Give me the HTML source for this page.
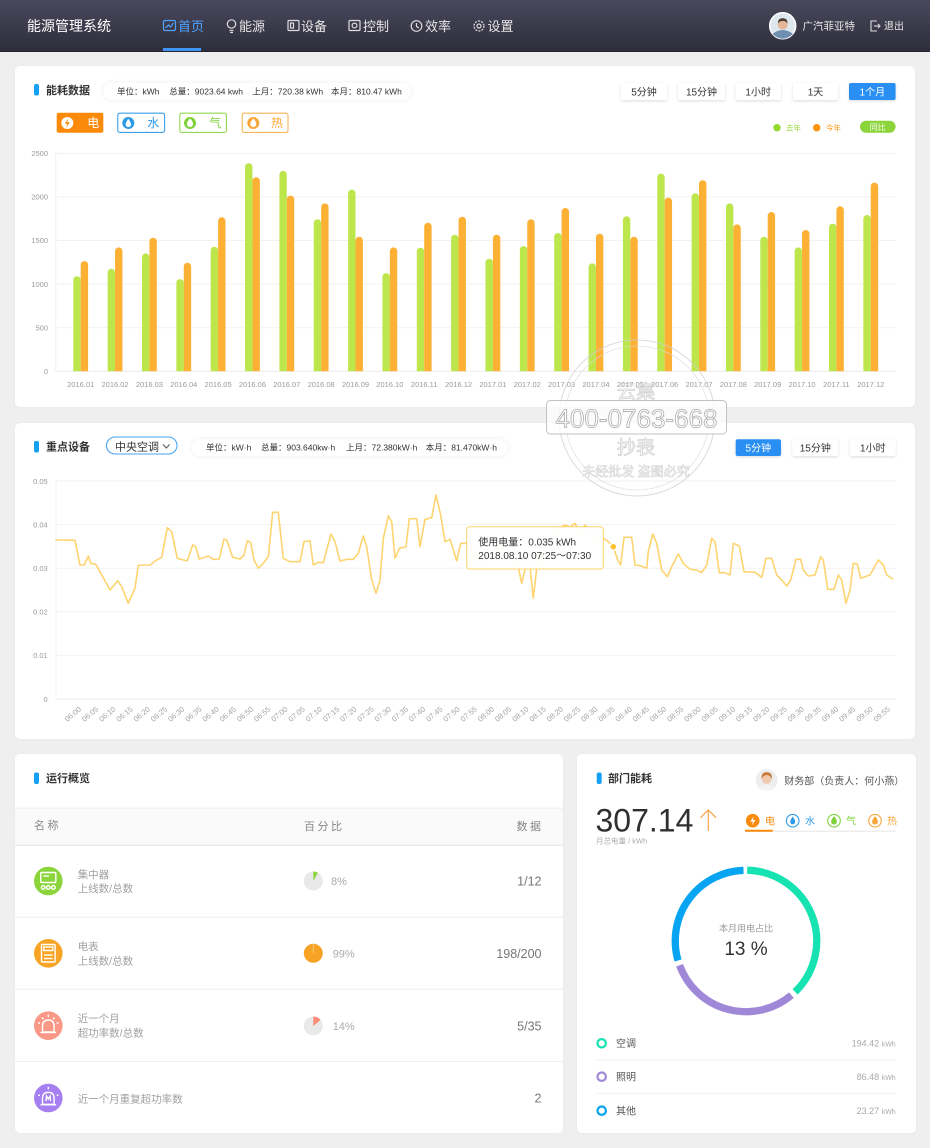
<!DOCTYPE html>
<html><head><meta charset="utf-8">
<style>
html,body{margin:0;padding:0;}
body{width:930px;height:1148px;overflow:hidden;background:#efefef;position:relative;font-family:"Liberation Sans","Noto Sans CJK SC",sans-serif;}
.hdr{position:absolute;left:0;top:0;width:930px;height:51px;background:linear-gradient(to bottom,#4a495d 0%,#2e2d3b 100%);border-bottom:1px solid #25242f;}
.card{position:absolute;background:#fff;border-radius:5px;box-shadow:0 0 2px rgba(0,0,0,0.04);}
svg.main{position:absolute;left:0;top:0;}
</style></head><body>
<div class="hdr"></div>
<div class="card" style="left:15px;top:66px;width:900px;height:341px;"></div>
<div class="card" style="left:15px;top:423px;width:900px;height:316px;"></div>
<div class="card" style="left:15px;top:754px;width:548px;height:379px;"></div>
<div class="card" style="left:577px;top:754px;width:339px;height:379px;"></div>

<svg class="main" width="930" height="1148" viewBox="0 0 930 1148" xmlns="http://www.w3.org/2000/svg" style="font-family:'Liberation Sans','Noto Sans CJK SC',sans-serif;">
<defs>
<clipPath id="bc"><rect x="0" y="0" width="930" height="371.3"/></clipPath>
<filter id="sh" x="-10%" y="-30%" width="120%" height="160%"><feDropShadow dx="0" dy="1" stdDeviation="1.2" flood-color="#000" flood-opacity="0.14"/></filter>
<filter id="sh2" x="-10%" y="-40%" width="120%" height="180%"><feDropShadow dx="0" dy="0" stdDeviation="2" flood-color="#000" flood-opacity="0.08"/></filter>
</defs>

<!-- HEADER -->
<text x="27" y="31" font-size="14" fill="#ffffff">能源管理系统</text>
<g fill="none" stroke="#4fa3ff" stroke-width="1.2">
<rect x="163.5" y="20.5" width="12" height="10" rx="1.5"/>
<polyline points="165.5,28 168.5,25 170.5,27 173.5,23"/>
</g>
<text x="178" y="31" font-size="13" fill="#4fa3ff">首页</text>
<rect x="163" y="48" width="38" height="3" fill="#3f95f5"/>
<g fill="none" stroke="#dcdcdc" stroke-width="1.2">
<circle cx="231.5" cy="24" r="4.2"/><line x1="229.5" y1="30.5" x2="233.5" y2="30.5"/><line x1="230" y1="32.5" x2="233" y2="32.5"/>
<rect x="288" y="20.5" width="11" height="10" rx="1"/><rect x="290.5" y="23" width="3" height="5"/>
<rect x="349" y="20.5" width="11" height="10" rx="1"/><circle cx="354.5" cy="25.5" r="2.4"/>
<circle cx="416.5" cy="26" r="5.3"/><polyline points="416.5,23 416.5,26.5 419,28"/>
<circle cx="479" cy="26" r="5" stroke-dasharray="2 1.2"/><circle cx="479" cy="26" r="2"/>
</g>
<text x="239" y="31" font-size="13" fill="#e6e6e6">能源</text>
<text x="301" y="31" font-size="13" fill="#e6e6e6">设备</text>
<text x="363" y="31" font-size="13" fill="#e6e6e6">控制</text>
<text x="425" y="31" font-size="13" fill="#e6e6e6">效率</text>
<text x="487.5" y="31" font-size="13" fill="#e6e6e6">设置</text>
<circle cx="782.7" cy="25.8" r="13" fill="#dfe7ee" stroke="#fff" stroke-width="1.5"/>
<path d="M772.5,34 Q782.7,26 793,34 Q788,38.5 782.7,38.8 Q777,38.5 772.5,34Z" fill="#6f8fb0"/>
<circle cx="782.7" cy="24.5" r="5" fill="#e3b797"/>
<path d="M777.8,23.5 Q778,18 782.7,18.3 Q787.5,18 787.6,23.5 Q785,20.5 782.7,21 Q780,20.6 777.8,23.5Z" fill="#4b3a30"/>
<text x="802.5" y="29.5" font-size="10.5" fill="#e8e8e8">广汽菲亚特</text>
<g fill="none" stroke="#dcdcdc" stroke-width="1.1"><polyline points="877,21 871,21 871,31 877,31"/><line x1="874" y1="26" x2="880" y2="26"/><polyline points="878,24 880,26 878,28"/></g>
<text x="884" y="29.5" font-size="10" fill="#e8e8e8">退出</text>

<!-- CARD 1 HEADER -->
<rect x="34" y="84" width="5" height="11.5" rx="2" fill="#14a0f5"/>
<text x="46" y="94" font-size="11" font-weight="bold" fill="#333">能耗数据</text>
<rect x="103.3" y="82.7" width="307.7" height="17.5" rx="8.7" fill="#fff" filter="url(#sh2)"/>
<g font-size="8.5" fill="#333">
<text x="117" y="94.5">单位：kWh</text>
<text x="169.3" y="94.5">总量：9023.64 kwh</text>
<text x="252.3" y="94.5">上月：720.38 kWh</text>
<text x="331" y="94.5">本月：810.47 kWh</text>
</g>
<g filter="url(#sh)">
<rect x="621" y="83" width="46" height="17" rx="2" fill="#fff"/>
<rect x="678" y="83" width="47" height="17" rx="2" fill="#fff"/>
<rect x="735.5" y="83" width="45.5" height="17" rx="2" fill="#fff"/>
<rect x="793" y="83" width="45" height="17" rx="2" fill="#fff"/>
<rect x="849" y="83" width="46.6" height="17" rx="2" fill="#2b8ff2"/>
</g>
<g font-size="10" text-anchor="middle" fill="#333">
<text x="644" y="95.3">5分钟</text>
<text x="701.5" y="95.3">15分钟</text>
<text x="758.2" y="95.3">1小时</text>
<text x="815.5" y="95.3">1天</text>
<text x="872.3" y="95.3" fill="#fff">1个月</text>
</g>
<!-- energy buttons -->
<rect x="56.7" y="112.7" width="46.6" height="20" rx="2" fill="#fb8a0b"/>
<circle cx="67.3" cy="123" r="6" fill="#fff"/>
<path d="M68.5,118.5 L64.7,123.8 L67.4,123.8 L66.2,127.7 L70,122.3 L67.3,122.3Z" fill="#fb8a0b"/>
<text x="87.3" y="127.2" font-size="12" fill="#fff">电</text>
<rect x="117.8" y="113.2" width="46.8" height="19.2" rx="2" fill="#fff" stroke="#3aa0e8" stroke-width="1.1"/>
<circle cx="128.3" cy="123" r="6" fill="#2d9ae8"/>
<path d="M128.3,118.8 Q131.3,123 131,124.6 Q130.6,127 128.3,127 Q126,127 125.6,124.6 Q125.4,123 128.3,118.8Z" fill="#fff"/>
<text x="147.3" y="127.2" font-size="12" fill="#2d9ae8">水</text>
<rect x="179.8" y="113.2" width="46.6" height="19.2" rx="2" fill="#fff" stroke="#93d94f" stroke-width="1.1"/>
<circle cx="190" cy="123" r="6" fill="#7fd13b"/>
<path d="M190,118.5 Q193.5,122 193,124.5 Q192.3,127 190,127 Q187.7,127 187,124.5 Q186.7,122 190,118.5Z" fill="#fff"/>
<text x="209.3" y="127.2" font-size="12" fill="#7fd13b">气</text>
<rect x="242.2" y="113.2" width="45.8" height="19.2" rx="2" fill="#fff" stroke="#f9b455" stroke-width="1.1"/>
<circle cx="253.3" cy="123" r="6" fill="#f9a63a"/>
<path d="M253.3,118.5 Q256.8,122 256.3,124.5 Q255.6,127 253.3,127 Q251,127 250.3,124.5 Q250,122 253.3,118.5Z" fill="#fff"/>
<text x="271" y="127.2" font-size="12" fill="#f9a63a">热</text>
<!-- legend -->
<circle cx="777" cy="127.7" r="3.7" fill="#95d832"/>
<text x="786" y="130.3" font-size="7.5" fill="#95d832">去年</text>
<circle cx="816.7" cy="127.7" r="3.7" fill="#fb930f"/>
<text x="826" y="130.3" font-size="7.5" fill="#fb930f">今年</text>
<rect x="860" y="120.7" width="35.6" height="12" rx="6" fill="#8bd43a"/>
<text x="877.8" y="130.2" font-size="8" fill="#fff" text-anchor="middle">同比</text>

<!-- BAR CHART -->
<g stroke="#f2f2f2" stroke-width="1">
<line x1="56" y1="153.3" x2="896" y2="153.3"/>
<line x1="56" y1="196.9" x2="896" y2="196.9"/>
<line x1="56" y1="240.5" x2="896" y2="240.5"/>
<line x1="56" y1="284.1" x2="896" y2="284.1"/>
<line x1="56" y1="327.7" x2="896" y2="327.7"/>
<line x1="55.7" y1="153" x2="55.7" y2="371.3"/>
</g>
<line x1="56" y1="371.3" x2="896" y2="371.3" stroke="#ececec"/>
<g font-size="7.5" fill="#9a9a9a" text-anchor="end">
<text x="48" y="156">2500</text>
<text x="48" y="199.6">2000</text>
<text x="48" y="243.2">1500</text>
<text x="48" y="286.8">1000</text>
<text x="48" y="330.4">500</text>
<text x="48" y="374">0</text>
</g>
<g fill="#bde64c" clip-path="url(#bc)">
<rect x="73.3" y="276.2" width="7.4" height="250" rx="3.7"/>
<rect x="107.65" y="268.8" width="7.4" height="250" rx="3.7"/>
<rect x="142.0" y="253.4" width="7.4" height="250" rx="3.7"/>
<rect x="176.35" y="279.1" width="7.4" height="250" rx="3.7"/>
<rect x="210.7" y="246.7" width="7.4" height="250" rx="3.7"/>
<rect x="245.05" y="163.2" width="7.4" height="250" rx="3.7"/>
<rect x="279.4" y="170.9" width="7.4" height="250" rx="3.7"/>
<rect x="313.75" y="219.3" width="7.4" height="250" rx="3.7"/>
<rect x="348.1" y="189.6" width="7.4" height="250" rx="3.7"/>
<rect x="382.45" y="273.1" width="7.4" height="250" rx="3.7"/>
<rect x="416.8" y="247.7" width="7.4" height="250" rx="3.7"/>
<rect x="451.15" y="234.7" width="7.4" height="250" rx="3.7"/>
<rect x="485.5" y="258.7" width="7.4" height="250" rx="3.7"/>
<rect x="519.85" y="246.1" width="7.4" height="250" rx="3.7"/>
<rect x="554.2" y="233.0" width="7.4" height="250" rx="3.7"/>
<rect x="588.55" y="263.4" width="7.4" height="250" rx="3.7"/>
<rect x="622.9" y="216.3" width="7.4" height="250" rx="3.7"/>
<rect x="657.25" y="173.6" width="7.4" height="250" rx="3.7"/>
<rect x="691.6" y="193.3" width="7.4" height="250" rx="3.7"/>
<rect x="725.95" y="203.4" width="7.4" height="250" rx="3.7"/>
<rect x="760.3" y="236.8" width="7.4" height="250" rx="3.7"/>
<rect x="794.65" y="247.4" width="7.4" height="250" rx="3.7"/>
<rect x="829.0" y="223.7" width="7.4" height="250" rx="3.7"/>
<rect x="863.35" y="215.0" width="7.4" height="250" rx="3.7"/>
</g>
<g fill="#fcb034" clip-path="url(#bc)">
<rect x="80.7" y="261.1" width="7.4" height="250" rx="3.7"/>
<rect x="115.05" y="247.4" width="7.4" height="250" rx="3.7"/>
<rect x="149.4" y="237.7" width="7.4" height="250" rx="3.7"/>
<rect x="183.75" y="262.7" width="7.4" height="250" rx="3.7"/>
<rect x="218.1" y="217.3" width="7.4" height="250" rx="3.7"/>
<rect x="252.45" y="177.3" width="7.4" height="250" rx="3.7"/>
<rect x="286.8" y="195.6" width="7.4" height="250" rx="3.7"/>
<rect x="321.15" y="203.4" width="7.4" height="250" rx="3.7"/>
<rect x="355.5" y="236.8" width="7.4" height="250" rx="3.7"/>
<rect x="389.85" y="247.4" width="7.4" height="250" rx="3.7"/>
<rect x="424.2" y="222.7" width="7.4" height="250" rx="3.7"/>
<rect x="458.55" y="216.7" width="7.4" height="250" rx="3.7"/>
<rect x="492.9" y="234.7" width="7.4" height="250" rx="3.7"/>
<rect x="527.25" y="219.3" width="7.4" height="250" rx="3.7"/>
<rect x="561.6" y="208.0" width="7.4" height="250" rx="3.7"/>
<rect x="595.95" y="233.7" width="7.4" height="250" rx="3.7"/>
<rect x="630.3" y="236.8" width="7.4" height="250" rx="3.7"/>
<rect x="664.65" y="197.6" width="7.4" height="250" rx="3.7"/>
<rect x="699.0" y="180.2" width="7.4" height="250" rx="3.7"/>
<rect x="733.35" y="224.4" width="7.4" height="250" rx="3.7"/>
<rect x="767.7" y="212.0" width="7.4" height="250" rx="3.7"/>
<rect x="802.05" y="230.0" width="7.4" height="250" rx="3.7"/>
<rect x="836.4" y="206.3" width="7.4" height="250" rx="3.7"/>
<rect x="870.75" y="182.6" width="7.4" height="250" rx="3.7"/>
</g>
<g font-size="7.5" fill="#9a9a9a" text-anchor="middle">
<text x="80.7" y="387">2016.01</text>
<text x="115.05" y="387">2016.02</text>
<text x="149.4" y="387">2016.03</text>
<text x="183.75" y="387">2016.04</text>
<text x="218.1" y="387">2016.05</text>
<text x="252.45" y="387">2016.06</text>
<text x="286.8" y="387">2016.07</text>
<text x="321.15" y="387">2016.08</text>
<text x="355.5" y="387">2016.09</text>
<text x="389.85" y="387">2016.10</text>
<text x="424.2" y="387">2016.11</text>
<text x="458.55" y="387">2016.12</text>
<text x="492.9" y="387">2017.01</text>
<text x="527.25" y="387">2017.02</text>
<text x="561.6" y="387">2017.03</text>
<text x="595.95" y="387">2017.04</text>
<text x="630.3" y="387">2017.05</text>
<text x="664.65" y="387">2017.06</text>
<text x="699.0" y="387">2017.07</text>
<text x="733.35" y="387">2017.08</text>
<text x="767.7" y="387">2017.09</text>
<text x="802.05" y="387">2017.10</text>
<text x="836.4" y="387">2017.11</text>
<text x="870.75" y="387">2017.12</text>
</g>

<!-- CARD 2 HEADER -->
<rect x="34" y="441" width="5" height="11.5" rx="2" fill="#14a0f5"/>
<text x="46" y="450.7" font-size="11" font-weight="bold" fill="#333">重点设备</text>
<rect x="106.5" y="437" width="70.5" height="17" rx="8.5" fill="#fff" stroke="#45a5f5" stroke-width="1.1"/>
<text x="115" y="450.3" font-size="11" fill="#333">中央空调</text>
<polyline points="163,444.5 166.3,448 169.6,444.5" fill="none" stroke="#555" stroke-width="1.1"/>
<rect x="191.7" y="439" width="316" height="17" rx="8.5" fill="#fff" filter="url(#sh2)"/>
<g font-size="8.5" fill="#333">
<text x="206" y="450.5">单位：kW·h</text>
<text x="261" y="450.5">总量：903.640kw·h</text>
<text x="346" y="450.5">上月：72.380kW·h</text>
<text x="425.7" y="450.5">本月：81.470kW·h</text>
</g>
<g filter="url(#sh)">
<rect x="735.7" y="439.3" width="45.3" height="16.7" rx="2" fill="#2b8ff2"/>
<rect x="792.3" y="439.3" width="46" height="16.7" rx="2" fill="#fff"/>
<rect x="850" y="439.3" width="45.7" height="16.7" rx="2" fill="#fff"/>
</g>
<g font-size="10" text-anchor="middle" fill="#333">
<text x="758.3" y="451.3" fill="#fff">5分钟</text>
<text x="815.3" y="451.3">15分钟</text>
<text x="872.8" y="451.3">1小时</text>
</g>

<!-- LINE CHART -->
<g stroke="#f2f2f2" stroke-width="1">
<line x1="56" y1="481" x2="896" y2="481"/>
<line x1="56" y1="524.6" x2="896" y2="524.6"/>
<line x1="56" y1="568.2" x2="896" y2="568.2"/>
<line x1="56" y1="611.8" x2="896" y2="611.8"/>
<line x1="56" y1="655.4" x2="896" y2="655.4"/>
<line x1="56" y1="481" x2="56" y2="699"/>
</g>
<line x1="56" y1="699" x2="896" y2="699" stroke="#ececec"/>
<g font-size="7.5" fill="#9a9a9a" text-anchor="end">
<text x="47.7" y="483.8">0.05</text>
<text x="47.7" y="527.4">0.04</text>
<text x="47.7" y="571">0.03</text>
<text x="47.7" y="614.6">0.02</text>
<text x="47.7" y="658.2">0.01</text>
<text x="47.7" y="701.8">0</text>
</g>
<g font-size="7.5" fill="#a5a5a5" text-anchor="end">
<text transform="translate(81.7,710) rotate(-40)">06:00</text>
<text transform="translate(98.9,710) rotate(-40)">06:05</text>
<text transform="translate(116.1,710) rotate(-40)">06:10</text>
<text transform="translate(133.3,710) rotate(-40)">06:15</text>
<text transform="translate(150.5,710) rotate(-40)">06:20</text>
<text transform="translate(167.8,710) rotate(-40)">06:25</text>
<text transform="translate(185.0,710) rotate(-40)">06:30</text>
<text transform="translate(202.2,710) rotate(-40)">06:35</text>
<text transform="translate(219.4,710) rotate(-40)">06:40</text>
<text transform="translate(236.6,710) rotate(-40)">06:45</text>
<text transform="translate(253.8,710) rotate(-40)">06:50</text>
<text transform="translate(271.0,710) rotate(-40)">06:55</text>
<text transform="translate(288.2,710) rotate(-40)">07:00</text>
<text transform="translate(305.4,710) rotate(-40)">07:05</text>
<text transform="translate(322.6,710) rotate(-40)">07:10</text>
<text transform="translate(339.9,710) rotate(-40)">07:15</text>
<text transform="translate(357.1,710) rotate(-40)">07:20</text>
<text transform="translate(374.3,710) rotate(-40)">07:25</text>
<text transform="translate(391.5,710) rotate(-40)">07:30</text>
<text transform="translate(408.7,710) rotate(-40)">07:35</text>
<text transform="translate(425.9,710) rotate(-40)">07:40</text>
<text transform="translate(443.1,710) rotate(-40)">07:45</text>
<text transform="translate(460.3,710) rotate(-40)">07:50</text>
<text transform="translate(477.5,710) rotate(-40)">07:55</text>
<text transform="translate(494.7,710) rotate(-40)">08:00</text>
<text transform="translate(511.9,710) rotate(-40)">08:05</text>
<text transform="translate(529.2,710) rotate(-40)">08:10</text>
<text transform="translate(546.4,710) rotate(-40)">08:15</text>
<text transform="translate(563.6,710) rotate(-40)">08:20</text>
<text transform="translate(580.8,710) rotate(-40)">08:25</text>
<text transform="translate(598.0,710) rotate(-40)">08:30</text>
<text transform="translate(615.2,710) rotate(-40)">08:35</text>
<text transform="translate(632.4,710) rotate(-40)">08:40</text>
<text transform="translate(649.6,710) rotate(-40)">08:45</text>
<text transform="translate(666.8,710) rotate(-40)">08:50</text>
<text transform="translate(684.0,710) rotate(-40)">08:55</text>
<text transform="translate(701.3,710) rotate(-40)">09:00</text>
<text transform="translate(718.5,710) rotate(-40)">09:05</text>
<text transform="translate(735.7,710) rotate(-40)">09:10</text>
<text transform="translate(752.9,710) rotate(-40)">09:15</text>
<text transform="translate(770.1,710) rotate(-40)">09:20</text>
<text transform="translate(787.3,710) rotate(-40)">09:25</text>
<text transform="translate(804.5,710) rotate(-40)">09:30</text>
<text transform="translate(821.7,710) rotate(-40)">09:35</text>
<text transform="translate(838.9,710) rotate(-40)">09:40</text>
<text transform="translate(856.1,710) rotate(-40)">09:45</text>
<text transform="translate(873.4,710) rotate(-40)">09:50</text>
<text transform="translate(890.6,710) rotate(-40)">09:55</text>
</g>
<polyline fill="none" stroke="#fdd470" stroke-width="1.6" stroke-linejoin="round" stroke-linecap="round" points="56,540 75,540.3 80,565 84.3,565 88.3,556 90.7,563.3 95.7,564.3 100,571.7 110,590 117.7,580.7 121.7,586.7 128.3,603.3 135,588.3 138.3,565.3 150,565 156.7,560 161.7,557.3 167.3,527.7 171.7,531.7 177.3,558.3 183.3,560 187.3,560.7 192.7,545 195.7,546.7 199.3,559 208.3,556 213.3,559.3 219.3,559 224,539 226.7,540 232.7,557.3 240,559 244,555 247.3,540.7 250.7,542.7 254,560 258.3,568.3 263.3,563.3 268.3,556.7 272.7,512.3 278.3,512.3 283.3,558.3 290,561.7 300,561.7 304,541.7 310,540.7 313.3,565 318.3,562.3 323.3,562.7 331,534 335,541.7 340,561 346.7,559.3 353.3,559.3 358.3,553.3 363.3,536 366.7,546.7 371.7,580 376,593.3 380,580 383.3,538.3 388.3,516 391.7,521.7 395,558.3 399.3,548.3 406,546.7 409.3,518.7 416.7,518.7 420,546.7 425,519.3 431.7,517.7 436,495 440.7,515 445,541.7 450,539.3 456.7,560.7 460.7,543.3 466.7,543.3 470,548 480,562 490,556 500,546 508,552 516.7,560 521.7,583.3 526,565 530,566.7 533.3,598.3 536.7,568.3 545,545 555,530 565,525 570,527 575,523.3 580,533 585,525 596.7,540 603.3,538.3 608.3,541.7 613.3,546.7 617.7,560 620.7,565 624,537.3 631.7,537.3 635,565 641.7,566 646.7,568.3 648.3,551.7 652.7,534 656.7,543.3 661.7,570 667.3,576.7 671.7,566.7 678.3,554 683.3,563.3 690,569.3 696.7,570 701.7,572.7 706.7,565 711.7,538.3 715,541.7 719.3,572.7 725,572.7 730,575 733.3,543.3 739.3,546 744,571.7 755,572.3 761.7,577.3 766,558.3 771.7,558.3 776.7,575 781.7,580 786.7,586 790.7,580 796,559.3 800.7,559.3 803.3,570 808.3,576 815,575 820.7,556.7 823.3,560 827.7,589.3 834,589.3 838.3,575 841.7,580 846,603.3 850,590 853.3,563.3 857.3,564 860.7,578.3 865,576.7 870,575 878.3,560 883.3,565 886.7,575 892.7,579"/>
<!-- tooltip -->
<rect x="466.7" y="526.7" width="136.6" height="42.3" rx="3" fill="#fff" fill-opacity="0.93" stroke="#fcd46a" stroke-width="1"/>
<text x="478.3" y="545.3" font-size="10" fill="#333">使用电量：0.035 kWh</text>
<text x="478.3" y="559" font-size="10" fill="#333">2018.08.10 07:25～07:30</text>
<circle cx="613.3" cy="546.7" r="3.5" fill="#fcc22d" stroke="#fff" stroke-width="1.5"/>

<!-- WATERMARK -->
<g opacity="0.75">
<circle cx="637" cy="418" r="78" fill="none" stroke="#cfcfcf" stroke-width="1"/>
<circle cx="637" cy="418" r="72" fill="none" stroke="#dadada" stroke-width="0.8"/>
<text x="636" y="398" font-size="19" text-anchor="middle" fill="#fff" stroke="#bbb" stroke-width="0.7">云集</text>
<text x="636" y="454" font-size="19" text-anchor="middle" fill="#fff" stroke="#bbb" stroke-width="0.7">抄表</text>
<text x="636" y="476" font-size="13" text-anchor="middle" fill="#fff" stroke="#c4c4c4" stroke-width="0.6">未经批发 盗图必究</text>
</g>
<rect x="546.5" y="400.5" width="180" height="33.5" rx="4" fill="#fff" fill-opacity="0.75" stroke="#c2c2c2" stroke-width="1"/>
<text x="636.5" y="427.5" font-size="26" text-anchor="middle" fill="#fff" stroke="#acacac" stroke-width="0.8">400-0763-668</text>

<!-- CARD 3 -->
<rect x="34" y="772.5" width="5" height="11.5" rx="2" fill="#14a0f5"/>
<text x="46" y="782" font-size="11" font-weight="bold" fill="#333">运行概览</text>
<rect x="15" y="808.3" width="548" height="36.7" fill="#fafafa"/>
<line x1="15" y1="808.3" x2="563" y2="808.3" stroke="#eeeeee"/>
<line x1="15" y1="845.3" x2="563" y2="845.3" stroke="#ececec" stroke-width="1.5"/>
<line x1="15" y1="917.3" x2="563" y2="917.3" stroke="#eeeeee"/>
<line x1="15" y1="989.3" x2="563" y2="989.3" stroke="#eeeeee"/>
<line x1="15" y1="1061.5" x2="563" y2="1061.5" stroke="#eeeeee"/>
<g font-size="11" fill="#888" letter-spacing="2.5">
<text x="34" y="829">名称</text>
<text x="304" y="830">百分比</text>
<text x="543.5" y="830" text-anchor="end">数据</text>
</g>
<!-- icons -->
<circle cx="48.3" cy="881" r="14.3" fill="#8cd43c"/>
<g fill="none" stroke="#fff" stroke-width="1.4"><rect x="40.8" y="872.5" width="15" height="10" rx="1"/><line x1="43.5" y1="876" x2="49" y2="876"/><circle cx="43.2" cy="887.5" r="1.8"/><circle cx="48.3" cy="887.5" r="1.8"/><circle cx="53.4" cy="887.5" r="1.8"/></g>
<circle cx="48.3" cy="953.3" r="14.3" fill="#f7a426"/>
<g fill="none" stroke="#fff" stroke-width="1.4"><rect x="41.5" y="944.5" width="13.6" height="17.5" rx="1"/><rect x="43.8" y="947" width="9" height="3.5"/><line x1="44" y1="955" x2="52.6" y2="955"/><line x1="44" y1="958.5" x2="52.6" y2="958.5"/></g>
<circle cx="48.3" cy="1025.7" r="14.3" fill="#f99886"/>
<g fill="none" stroke="#fff" stroke-width="1.4"><path d="M42.5,1032 L42.5,1026 Q42.5,1020 48.3,1020 Q54.1,1020 54.1,1026 L54.1,1032Z"/><line x1="40.5" y1="1032.5" x2="56.1" y2="1032.5"/><line x1="48.3" y1="1014.5" x2="48.3" y2="1017"/><line x1="40" y1="1023" x2="38" y2="1023"/><line x1="56.6" y1="1023" x2="58.6" y2="1023"/><line x1="42" y1="1017.5" x2="43.5" y2="1019"/><line x1="54.6" y1="1017.5" x2="53.1" y2="1019"/></g>
<circle cx="48.3" cy="1098" r="14.3" fill="#a680f0"/>
<g fill="none" stroke="#fff" stroke-width="1.4"><path d="M42.5,1104.3 L42.5,1098.3 Q42.5,1092.3 48.3,1092.3 Q54.1,1092.3 54.1,1098.3 L54.1,1104.3Z"/><line x1="40.5" y1="1104.8" x2="56.1" y2="1104.8"/><line x1="48.3" y1="1086.8" x2="48.3" y2="1089.3"/><line x1="40" y1="1095.3" x2="38" y2="1095.3"/><line x1="56.6" y1="1095.3" x2="58.6" y2="1095.3"/><polyline points="46,1101 46.5,1096 48.3,1099 50.1,1096 50.6,1101"/></g>
<g font-size="10.5" fill="#a0a0a0">
<text x="77.7" y="877.8">集中器</text>
<text x="77.7" y="892">上线数/总数</text>
<text x="77.7" y="950.2">电表</text>
<text x="77.7" y="964.4">上线数/总数</text>
<text x="77.7" y="1022.2">近一个月</text>
<text x="77.7" y="1036.6">超功率数/总数</text>
<text x="77.7" y="1102.5">近一个月重复超功率数</text>
</g>
<!-- pies -->
<circle cx="313.3" cy="881" r="9.5" fill="#e9e9e9"/>
<path d="M313.3,881 L313.3,871.5 A9.5,9.5 0 0 1 317.9,872.7 Z" fill="#8bd43a"/>
<circle cx="313.3" cy="953.3" r="9.5" fill="#f7a325"/>
<line x1="313.3" y1="953.3" x2="313.3" y2="943.8" stroke="#f9d08a" stroke-width="0.8"/>
<circle cx="313.3" cy="1026" r="9.5" fill="#e9e9e9"/>
<path d="M313.3,1026 L313.3,1016.5 A9.5,9.5 0 0 1 320.6,1019.9 Z" fill="#f98b78"/>
<g font-size="11" fill="#aaa">
<text x="331" y="885">8%</text>
<text x="332.7" y="957.3">99%</text>
<text x="332.7" y="1030">14%</text>
</g>
<g font-size="12.5" fill="#777" text-anchor="end">
<text x="541.5" y="885.6">1/12</text>
<text x="541.5" y="957.9">198/200</text>
<text x="541.5" y="1030.6">5/35</text>
<text x="541.5" y="1102.6">2</text>
</g>

<!-- CARD 4 -->
<rect x="596.7" y="772.5" width="5" height="11.5" rx="2" fill="#14a0f5"/>
<text x="608" y="782" font-size="11" font-weight="bold" fill="#333">部门能耗</text>
<circle cx="766.7" cy="780" r="11" fill="#eeeeee"/>
<path d="M758.5,788.5 Q766.7,782 775,788.5 Q771,791 766.7,791 Q762.5,791 758.5,788.5Z" fill="#f4f4f4"/>
<circle cx="766.7" cy="779" r="4.8" fill="#f0c9ad"/>
<path d="M761.5,779 Q761,772 766.7,772.2 Q772.5,772 772,779 Q770,775 766.7,775 Q763.5,775 761.5,779Z" fill="#c57a3c"/>
<text x="784.3" y="784.7" font-size="10" fill="#555">财务部（负责人：何小燕）</text>
<polyline points="887.5,779.5 890.8,782.8 894,779.5" fill="none" stroke="#bbb" stroke-width="1"/>
<text x="595.5" y="831.7" font-size="32" fill="#2f2f2f">307.14</text>
<g fill="none" stroke="#f7a24a" stroke-width="1.2"><line x1="708.3" y1="810" x2="708.3" y2="831"/><polyline points="700.5,817.8 708.3,810 716.1,817.8"/></g>
<text x="596" y="843.5" font-size="7.5" fill="#aaa">月总电量 / kWh</text>
<line x1="745" y1="831.3" x2="895.7" y2="831.3" stroke="#eeeeee" stroke-width="1.5"/>
<line x1="745" y1="830.8" x2="772.7" y2="830.8" stroke="#f98a0c" stroke-width="2"/>
<circle cx="752.7" cy="820.7" r="6.8" fill="#f98a0c"/>
<path d="M754,816.2 L750.2,821.5 L752.9,821.5 L751.7,825.4 L755.5,820 L752.8,820Z" fill="#fff"/>
<text x="765" y="824.5" font-size="10" fill="#f98a0c">电</text>
<circle cx="792.7" cy="820.7" r="6.3" fill="none" stroke="#2d9ae8" stroke-width="1.1"/>
<path d="M792.7,816.5 Q795.5,820.5 795.2,822 Q794.8,824.4 792.7,824.4 Q790.6,824.4 790.2,822 Q790,820.5 792.7,816.5Z" fill="#2d9ae8"/>
<text x="805" y="824.5" font-size="10" fill="#2d9ae8">水</text>
<circle cx="834" cy="820.7" r="6.3" fill="none" stroke="#7fd13b" stroke-width="1.1"/>
<path d="M834,816.3 Q837.3,819.8 836.8,822.2 Q836.2,824.5 834,824.5 Q831.8,824.5 831.2,822.2 Q830.8,819.8 834,816.3Z" fill="#7fd13b"/>
<text x="846" y="824.5" font-size="10" fill="#7fd13b">气</text>
<circle cx="875" cy="820.7" r="6.3" fill="none" stroke="#f9a63a" stroke-width="1.1"/>
<path d="M875,816.3 Q878.3,819.8 877.8,822.2 Q877.2,824.5 875,824.5 Q872.8,824.5 872.2,822.2 Q871.8,819.8 875,816.3Z" fill="#f9a63a"/>
<text x="887" y="824.5" font-size="10" fill="#f9a63a">热</text>
<!-- donut -->
<g fill="none" stroke-width="7.3">
<path d="M747.2,870.3 A70.7,70.7 0 0 1 795.1,991.9" stroke="#17e3b2"/>
<path d="M791.4,995.2 A70.7,70.7 0 0 1 679.6,965.2" stroke="#a088d8"/>
<path d="M678.0,960.5 A70.7,70.7 0 0 1 743.5,870.3" stroke="#07a5f1"/>
</g>
<text x="746" y="931.3" font-size="9" fill="#999" text-anchor="middle">本月用电占比</text>
<text x="746" y="955" font-size="19" fill="#333" text-anchor="middle">13 %</text>
<!-- legend -->
<g fill="none" stroke-width="2.2">
<circle cx="601.7" cy="1043.3" r="4.2" stroke="#17e3b2"/>
<circle cx="601.7" cy="1076.7" r="4.2" stroke="#a088d8"/>
<circle cx="601.7" cy="1110.7" r="4.2" stroke="#07a5f1"/>
</g>
<g font-size="10" fill="#555">
<text x="616" y="1047">空调</text>
<text x="616" y="1080.4">照明</text>
<text x="616" y="1114.4">其他</text>
</g>
<g font-size="9" fill="#aaa" text-anchor="end">
<text x="895.7" y="1046.6">194.42 <tspan font-size="7">kWh</tspan></text>
<text x="895.7" y="1080">86.48 <tspan font-size="7">kWh</tspan></text>
<text x="895.7" y="1114">23.27 <tspan font-size="7">kWh</tspan></text>
</g>
<line x1="596" y1="1060" x2="896" y2="1060" stroke="#f1f1f1"/>
<line x1="596" y1="1093.3" x2="896" y2="1093.3" stroke="#f1f1f1"/>
</svg>
</body></html>
